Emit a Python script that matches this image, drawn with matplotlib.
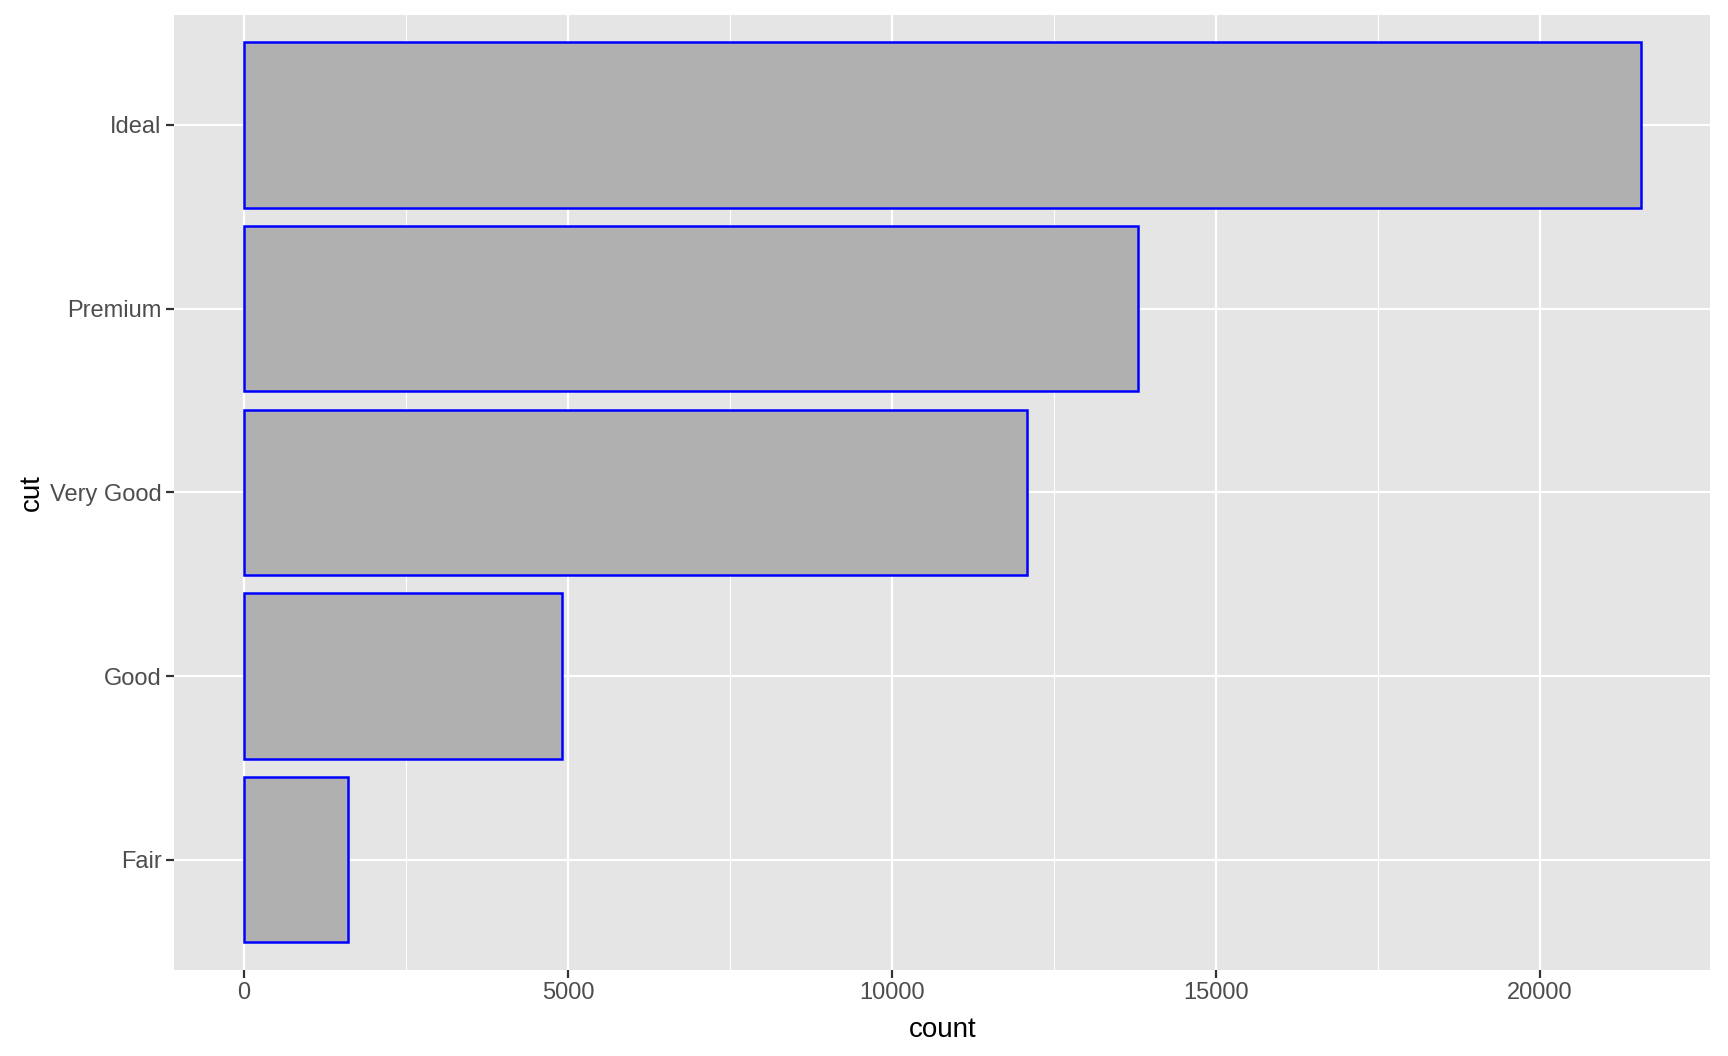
import matplotlib
matplotlib.use("Agg")
import matplotlib.pyplot as plt
import numpy as np

plt.rcParams['font.family'] = ['Liberation Sans', 'DejaVu Sans']

# diamonds: count by cut
cuts = ["Fair", "Good", "Very Good", "Premium", "Ideal"]
counts = [1610, 4906, 12082, 13791, 21551]

fig = plt.figure(figsize=(17.28, 10.56), dpi=100)
ax = fig.add_axes([0.1008, 0.0815, 0.889, 0.9045])
ax.set_facecolor("#E5E5E5")

y = np.arange(1, len(cuts) + 1)
ax.barh(y, counts, height=0.9, color="#B0B0B0", edgecolor="#0000FF", linewidth=1.8, zorder=3)

xmax = max(counts)
ax.set_xlim(-0.05 * xmax, 1.05 * xmax)
ax.set_ylim(0.4, len(cuts) + 0.6)

ax.set_xticks([0, 5000, 10000, 15000, 20000])
ax.set_xticks([2500, 7500, 12500, 17500], minor=True)
ax.set_yticks(y)
ax.set_yticklabels(cuts)

ax.grid(which="major", color="white", linewidth=1.6, zorder=0)
ax.grid(which="minor", axis="x", color="white", linewidth=0.8, zorder=0)
ax.set_axisbelow(True)
for s in ax.spines.values():
    s.set_visible(False)

ax.tick_params(which="major", length=6, width=1.6, color="#333333", labelcolor="#4D4D4D", labelsize=17, pad=3)
ax.tick_params(which="minor", length=0)

ax.set_xlabel("count", fontsize=20, color="black", labelpad=9)
ax.set_ylabel("cut", fontsize=20, color="black", labelpad=4)

fig.savefig("out.png", dpi=100, facecolor="white")
